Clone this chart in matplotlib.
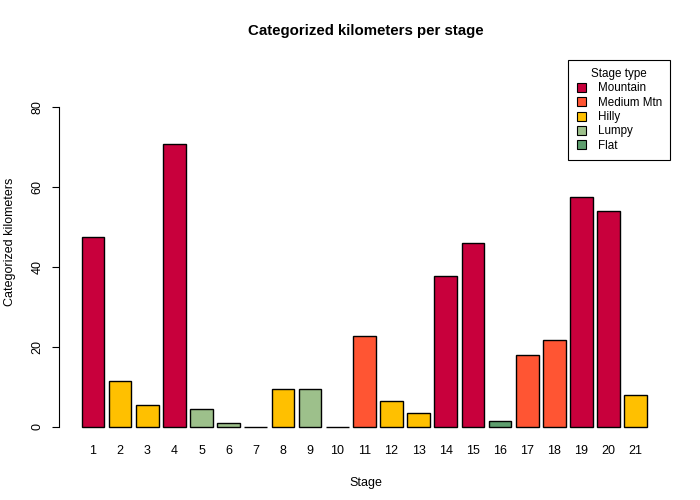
import numpy as np
from matplotlib import pyplot as plt
from matplotlib.patches import Patch

plt.rcParams['font.family'] = ['Liberation Sans', 'DejaVu Sans']

stages = [str(i) for i in range(1, 22)]
km = [47.4, 11.5, 5.5, 70.9, 4.5, 1.0, 0.0, 9.5, 9.5, 0.0, 22.6,
      6.5, 3.3, 37.6, 46.1, 1.3, 18.0, 21.8, 57.6, 53.9, 8.0]
stage_type = ['Mountain', 'Hilly', 'Hilly', 'Mountain', 'Lumpy', 'Lumpy', 'Flat',
              'Hilly', 'Lumpy', 'Flat', 'Medium Mtn', 'Hilly', 'Hilly', 'Mountain',
              'Mountain', 'Flat', 'Medium Mtn', 'Medium Mtn', 'Mountain', 'Mountain', 'Hilly']
type_names = ['Mountain', 'Medium Mtn', 'Hilly', 'Lumpy', 'Flat']
type_colors = ['#C8003C', '#FF5533', '#FFC000', '#9DC08B', '#5E9E6E']

col_of = dict(zip(type_names, type_colors))

fig = plt.figure(figsize=(7, 5), dpi=100)
ax = fig.add_axes([59/700, 1 - 426.5/500, (672 - 59)/700, 367.5/500])

# R barplot positions: width 1, space 0.2
x = 0.7 + 1.2*np.arange(len(km))
bars = ax.bar(x, km, width=1, color=[col_of[t] for t in stage_type],
              edgecolor='black', linewidth=1)
for b in bars:
    b.set_clip_on(False)

ax.set_xlim(-0.8, 26.3)
ax.set_ylim(0, 92.1)
ax.set_xticks(x)
ax.set_xticklabels(stages)
ax.set_yticks([0, 20, 40, 60, 80])
ax.set_yticklabels(['0', '20', '40', '60', '80'], rotation=90, va='center')

for s in ['top', 'right', 'bottom']:
    ax.spines[s].set_visible(False)
ax.spines['left'].set_bounds(0, 80)
ax.tick_params(axis='x', length=0, pad=13.5, labelsize=9)
ax.tick_params(axis='y', length=5, width=0.8, pad=6, labelsize=9)

ax.set_xlabel('Stage', fontsize=9, labelpad=14)
fig.text(10/700, 1 - 242/500, 'Categorized kilometers', rotation=90,
         ha='center', va='center', fontsize=9)
fig.text(0.523, 1 - 31/500, 'Categorized kilometers per stage', ha='center', va='center',
         fontsize=10.8, fontweight='bold')

handles = [Patch(facecolor=c, edgecolor='black', linewidth=0.8) for c in type_colors]
leg = ax.legend(handles, type_names, title='Stage type', loc='upper right',
                bbox_to_anchor=(670/700, 1 - 60/500), bbox_transform=fig.transFigure,
                borderaxespad=0, fontsize=8.4, title_fontsize=8.4, fancybox=False,
                framealpha=1, edgecolor='black', handlelength=0.8, handleheight=0.8,
                labelspacing=0.2, borderpad=0.7, handletextpad=1.0)
leg.get_frame().set_linewidth(0.8)

fig.savefig('out.png', dpi=100)
